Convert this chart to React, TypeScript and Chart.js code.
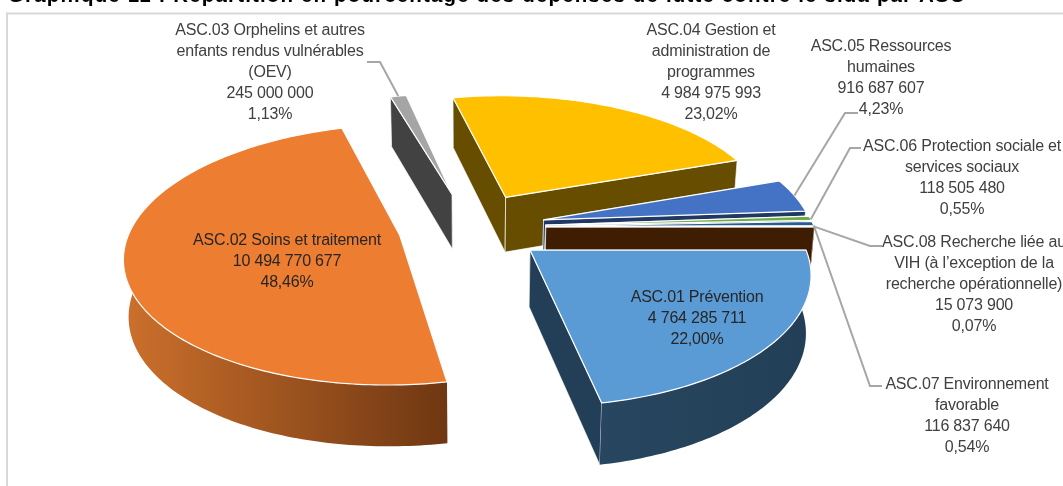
import React, { useEffect, useRef } from "react";
import { Chart, registerables } from "chart.js";

Chart.register(...registerables);

// Spending by programme area, in the order of the pie.
const categories = ["ASC.01", "ASC.02", "ASC.03", "ASC.04", "ASC.05", "ASC.06", "ASC.07", "ASC.08"];
const amounts = [4764285711, 10494770677, 245000000, 4984975993, 916687607, 118505480, 116837640, 15073900];
const nameLines = [
  ["ASC.01 Prévention"],
  ["ASC.02 Soins et traitement"],
  ["ASC.03 Orphelins et autres", "enfants rendus vulnérables", "(OEV)"],
  ["ASC.04 Gestion et", "administration de", "programmes"],
  ["ASC.05 Ressources", "humaines"],
  ["ASC.06 Protection sociale et", "services sociaux"],
  ["ASC.07 Environnement", "favorable"],
  ["ASC.08 Recherche liée au", "VIH (à l’exception de la", "recherche opérationnelle)"],
];
const heading = "Graphique 11 : Répartition en pourcentage des dépenses de lutte contre le sida par ASC";

// Slice colours: top surface, cut faces, rim gradient ends.
const topColors = ["#5B9BD5", "#ED7D31", "#A5A5A5", "#FFC000", "#4472C4", "#70AD47", "#255E91", "#9E480E"];
const faceColors = ["#233F58", "#73390F", "#424242", "#664D00", "#1F3864", "#3A5F28", "#17385A", "#3F1D02"];
const rimLeftColors = ["#28465F", "#CC702C", "#424242", "#664D00", "#1F3864", "#3A5F28", "#17385A", "#3F1D02"];
const rimRightColors = ["#233F58", "#6F3712", "#424242", "#664D00", "#1F3864", "#3A5F28", "#17385A", "#3F1D02"];

// Explosion distance of each slice.
const sliceOffsets = [56, 53, 56, 56, 56, 56, 56, 56];

// Text block centres (x, y of the first line) and leader elbows.
const labelX = [697, 287, 270, 711, 881, 962, 967, 974];
const labelY = [297.5, 240.5, 30.5, 30.5, 46.5, 146.5, 384.5, 242.5];
const onSlice = [true, true, false, false, false, false, false, false];
const leaderElbow: (number[][] | null)[] = [
  null,
  null,
  [[367, 62], [380, 62]],
  null,
  [[858, 113], [845, 113]],
  [[861, 148], [850, 148]],
  [[882, 386], [870, 386]],
  [[882, 246], [870, 246]],
];
// Where along the slice's outer edge the leader lands (0 = start, 1 = end).
const leaderAnchor = [0, 0, 0.5, 0, 0.5, 0.75, 0.9, 0.5];

// Camera: perspective of the tilted disc and height of its extrusion.
const SCALE_X = 268.6;
const SCALE_Y = 125;
const PERSPECTIVE = 0.15;
const DEPTH = 56;
const DEPTH_GROWTH = 5;
const CONVERGE = 0.985;
const LINE_HEIGHT = 21.1;
const FONT = '16px "Liberation Sans"';
const TEXT_TRACKING = "-0.2px";

type Pt = [number, number];

function sliceGeometry(arc: any) {
  const { x, y, startAngle, endAngle, outerRadius } = arc.getProps(["x", "y", "startAngle", "endAngle", "outerRadius"]);
  const mid = (startAngle + endAngle) / 2;
  const burst = (arc.options.offset || 0) / outerRadius;
  const tipU = burst * Math.cos(mid);
  const tipV = burst * Math.sin(mid);
  const onTop = (u: number, v: number): Pt => {
    const w = 1 - PERSPECTIVE * v;
    return [x + (SCALE_X * u) / w, y + (SCALE_Y * v) / w];
  };
  const onBase = (u: number, v: number): Pt => {
    const p = onTop(u, v);
    return [x + (p[0] - x) * CONVERGE, p[1] + DEPTH + DEPTH_GROWTH * v];
  };
  const rimAt = (t: number): [number, number] => [tipU + Math.cos(t), tipV + Math.sin(t)];
  return { startAngle, endAngle, tipU, tipV, onTop, onBase, rimAt };
}

function tracePolygon(ctx: CanvasRenderingContext2D, pts: Pt[]) {
  ctx.beginPath();
  pts.forEach((p, i) => (i ? ctx.lineTo(p[0], p[1]) : ctx.moveTo(p[0], p[1])));
  ctx.closePath();
}

function drawSlice(ctx: CanvasRenderingContext2D, arc: any, i: number) {
  const g = sliceGeometry(arc);
  const span = g.endAngle - g.startAngle;
  const steps = Math.max(2, Math.ceil(span / (Math.PI / 180)));
  const angles: number[] = [];
  for (let s = 0; s <= steps; s++) angles.push(g.startAngle + (span * s) / steps);
  const border = arc.options.borderColor;

  // Cut faces go first, the one nearer the viewer last, so the rim and
  // the top surface lie over them.
  [g.startAngle, g.endAngle]
    .sort((a, b) => Math.sin(a) - Math.sin(b))
    .forEach((t) => {
      const [u, v] = g.rimAt(t);
      tracePolygon(ctx, [
        g.onTop(g.tipU, g.tipV),
        g.onTop(u, v),
        g.onBase(u, v),
        g.onBase(g.tipU, g.tipV),
      ]);
      ctx.fillStyle = faceColors[i];
      ctx.fill();
      ctx.strokeStyle = "rgba(255,255,255,0.65)";
      ctx.lineWidth = 1;
      ctx.stroke();
    });

  // Only the part of the rim turned toward the viewer is drawn.
  const front = angles.filter((t) => Math.sin(t) >= -0.03);
  if (front.length > 1) {
    const upper = front.map((t) => g.onTop(...g.rimAt(t)));
    const lower = front.map((t) => g.onBase(...g.rimAt(t))).reverse();
    const xs = upper.map((p) => p[0]);
    const gradient = ctx.createLinearGradient(Math.min(...xs), 0, Math.max(...xs), 0);
    gradient.addColorStop(0, rimLeftColors[i]);
    gradient.addColorStop(1, rimRightColors[i]);
    tracePolygon(ctx, [...upper, ...lower]);
    ctx.fillStyle = gradient;
    ctx.fill();
  }

  const outline: Pt[] = [g.onTop(g.tipU, g.tipV), ...angles.map((t) => g.onTop(...g.rimAt(t)))];
  tracePolygon(ctx, outline);
  ctx.fillStyle = topColors[i];
  ctx.fill();
  ctx.strokeStyle = border;
  ctx.lineWidth = arc.options.borderWidth;
  ctx.lineJoin = "round";
  ctx.stroke();
}

const formatAmount = (n: number) => String(n).replace(/\B(?=(\d{3})+$)/g, " ");
const total = amounts.reduce((a, b) => a + b, 0);
const formatShare = (n: number) => ((n / total) * 100).toFixed(2).replace(".", ",") + "%";

const pie3d = {
  id: "pie3d",
  beforeDraw(chart: any) {
    const { ctx, width, height } = chart;
    ctx.save();
    ctx.fillStyle = "#FFFFFF";
    ctx.fillRect(0, 0, width, height);
    // Panel edge along the top and left.
    ctx.fillStyle = "#D9D9D9";
    ctx.fillRect(6, 12.5, width - 6, 2);
    ctx.fillRect(6, 12.5, 2, height - 12.5);
    // Heading of the panel, cut by the top of the page.
    ctx.font = 'bold 20.5px "Liberation Sans"';
    ctx.fillStyle = "#000000";
    ctx.textAlign = "left";
    ctx.textBaseline = "alphabetic";
    (ctx as any).letterSpacing = "1.15px";
    ctx.fillText(heading, 8, 1.5);
    (ctx as any).letterSpacing = "0px";
    ctx.restore();
  },
  beforeDatasetsDraw(chart: any) {
    const { ctx } = chart;
    const arcs = chart.getDatasetMeta(0).data;
    // Painter's order, from the far slices to the near ones.
    const order = [3, 2, 4, 5, 6, 7, 1, 0];
    ctx.save();
    order.forEach((i) => drawSlice(ctx, arcs[i], i));
    ctx.restore();

    // Leaders from the outer edge to each outside label.
    ctx.save();
    ctx.strokeStyle = "#A6A6A6";
    ctx.lineWidth = 2;
    leaderElbow.forEach((elbow, i) => {
      if (!elbow) return;
      const g = sliceGeometry(arcs[i]);
      const t = g.startAngle + (g.endAngle - g.startAngle) * leaderAnchor[i];
      const end = g.onTop(...g.rimAt(t));
      ctx.beginPath();
      ctx.moveTo(elbow[0][0], elbow[0][1]);
      ctx.lineTo(elbow[1][0], elbow[1][1]);
      ctx.lineTo(end[0], end[1]);
      ctx.stroke();
    });
    ctx.restore();

    ctx.save();
    ctx.font = FONT;
    ctx.textAlign = "center";
    ctx.textBaseline = "middle";
    (ctx as any).letterSpacing = TEXT_TRACKING;
    categories.forEach((_, i) => {
      const lines = [...nameLines[i], formatAmount(amounts[i]), formatShare(amounts[i])];
      ctx.fillStyle = onSlice[i] ? "#262626" : "#404040";
      lines.forEach((line, n) => ctx.fillText(line, labelX[i], labelY[i] + n * LINE_HEIGHT));
    });
    ctx.restore();
    return false;
  },
};

export default function App() {
  const ref = useRef<HTMLCanvasElement>(null);
  useEffect(() => {
    const chart = new Chart(ref.current!, {
      type: "pie",
      data: {
        labels: categories,
        datasets: [
          {
            data: amounts,
            backgroundColor: topColors,
            borderColor: "#FFFFFF",
            borderWidth: 1.2,
            offset: sliceOffsets,
          },
        ],
      },
      options: {
        responsive: false,
        animation: false,
        rotation: 90,
        events: [],
        // Centres the disc where the view needs it.
        layout: { padding: { right: 123, bottom: 32 } },
        plugins: { legend: { display: false }, tooltip: { enabled: false }, title: { display: false } },
      },
      plugins: [pie3d],
    } as any);
    return () => chart.destroy();
  }, []);
  return (
    <div style={{ position: "absolute", left: 0, top: 0, width: 1063, height: 486, overflow: "hidden", background: "#fff" }}>
      <canvas ref={ref} width={1063} height={486} style={{ display: "block" }} />
    </div>
  );
}
